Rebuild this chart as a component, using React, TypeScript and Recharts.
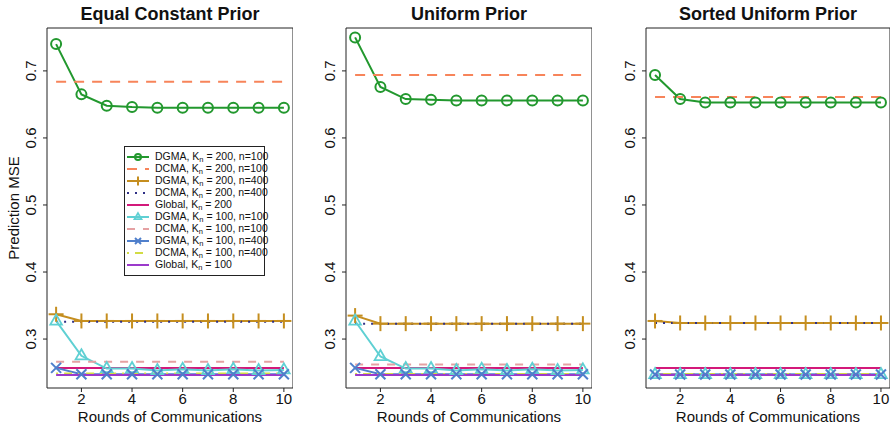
import { LineChart, Line, XAxis, YAxis, ReferenceArea, Legend, Label } from "recharts";

const rounds = [1, 2, 3, 4, 5, 6, 7, 8, 9, 10];
const xTicks = [2, 4, 6, 8, 10];
const yTicks = [0.3, 0.4, 0.5, 0.6, 0.7];
const panelTitles = ["Equal Constant Prior", "Uniform Prior", "Sorted Uniform Prior"];

// Equal Constant Prior
const ecpDgma200n100 = [0.74, 0.665, 0.648, 0.646, 0.645, 0.645, 0.645, 0.645, 0.645, 0.645];
const ecpDcma200n100 = [0.684, 0.684, 0.684, 0.684, 0.684, 0.684, 0.684, 0.684, 0.684, 0.684];
const ecpDgma200n400 = [0.337, 0.327, 0.327, 0.327, 0.327, 0.327, 0.327, 0.327, 0.327, 0.327];
const ecpDcma200n400 = [0.326, 0.326, 0.326, 0.326, 0.326, 0.326, 0.326, 0.326, 0.326, 0.326];
const ecpGlobal200 = [0.257, 0.257, 0.257, 0.257, 0.257, 0.257, 0.257, 0.257, 0.257, 0.257];
const ecpDgma100n100 = [0.327, 0.275, 0.256, 0.256, 0.253, 0.255, 0.253, 0.255, 0.253, 0.254];
const ecpDcma100n100 = [0.266, 0.266, 0.266, 0.266, 0.266, 0.266, 0.266, 0.266, 0.266, 0.266];
const ecpDgma100n400 = [0.257, 0.2475, 0.2475, 0.2475, 0.2475, 0.2475, 0.2475, 0.2475, 0.2475, 0.2475];
const ecpDcma100n400 = [0.2485, 0.2485, 0.2485, 0.2485, 0.2485, 0.2485, 0.2485, 0.2485, 0.2485, 0.2485];
const ecpGlobal100 = [0.2465, 0.2465, 0.2465, 0.2465, 0.2465, 0.2465, 0.2465, 0.2465, 0.2465, 0.2465];

// Uniform Prior
const upDgma200n100 = [0.75, 0.676, 0.658, 0.657, 0.656, 0.656, 0.656, 0.656, 0.656, 0.656];
const upDcma200n100 = [0.694, 0.694, 0.694, 0.694, 0.694, 0.694, 0.694, 0.694, 0.694, 0.694];
const upDgma200n400 = [0.335, 0.323, 0.323, 0.323, 0.323, 0.323, 0.323, 0.323, 0.323, 0.323];
const upDcma200n400 = [0.323, 0.323, 0.323, 0.323, 0.323, 0.323, 0.323, 0.323, 0.323, 0.323];
const upGlobal200 = [0.257, 0.257, 0.257, 0.257, 0.257, 0.257, 0.257, 0.257, 0.257, 0.257];
const upDgma100n100 = [0.327, 0.274, 0.256, 0.256, 0.253, 0.255, 0.253, 0.255, 0.253, 0.254];
const upDcma100n100 = [0.262, 0.262, 0.262, 0.262, 0.262, 0.262, 0.262, 0.262, 0.262, 0.262];
const upDgma100n400 = [0.257, 0.2475, 0.2475, 0.2475, 0.2475, 0.2475, 0.2475, 0.2475, 0.2475, 0.2475];
const upDcma100n400 = [0.248, 0.248, 0.248, 0.248, 0.248, 0.248, 0.248, 0.248, 0.248, 0.248];
const upGlobal100 = [0.2465, 0.2465, 0.2465, 0.2465, 0.2465, 0.2465, 0.2465, 0.2465, 0.2465, 0.2465];

// Sorted Uniform Prior
const supDgma200n100 = [0.694, 0.658, 0.653, 0.653, 0.653, 0.653, 0.653, 0.653, 0.653, 0.653];
const supDcma200n100 = [0.661, 0.661, 0.661, 0.661, 0.661, 0.661, 0.661, 0.661, 0.661, 0.661];
const supDgma200n400 = [0.327, 0.324, 0.324, 0.324, 0.324, 0.324, 0.324, 0.324, 0.324, 0.324];
const supDcma200n400 = [0.324, 0.324, 0.324, 0.324, 0.324, 0.324, 0.324, 0.324, 0.324, 0.324];
const supGlobal200 = [0.257, 0.257, 0.257, 0.257, 0.257, 0.257, 0.257, 0.257, 0.257, 0.257];
const supDgma100n100 = [0.2472, 0.2472, 0.2472, 0.2472, 0.2472, 0.2472, 0.2472, 0.2472, 0.2472, 0.2472];
const supDcma100n100 = [0.248, 0.248, 0.248, 0.248, 0.248, 0.248, 0.248, 0.248, 0.248, 0.248];
const supDgma100n400 = [0.2472, 0.2472, 0.2472, 0.2472, 0.2472, 0.2472, 0.2472, 0.2472, 0.2472, 0.2472];
const supDcma100n400 = [0.2478, 0.2478, 0.2478, 0.2478, 0.2478, 0.2478, 0.2478, 0.2478, 0.2478, 0.2478];
const supGlobal100 = [0.2465, 0.2465, 0.2465, 0.2465, 0.2465, 0.2465, 0.2465, 0.2465, 0.2465, 0.2465];

const panelValues = [
	[ecpDgma200n100, ecpDcma200n100, ecpDgma200n400, ecpDcma200n400, ecpGlobal200, ecpDgma100n100, ecpDcma100n100, ecpDgma100n400, ecpDcma100n400, ecpGlobal100],
	[upDgma200n100, upDcma200n100, upDgma200n400, upDcma200n400, upGlobal200, upDgma100n100, upDcma100n100, upDgma100n400, upDcma100n400, upGlobal100],
	[supDgma200n100, supDcma200n100, supDgma200n400, supDcma200n400, supGlobal200, supDgma100n100, supDcma100n100, supDgma100n400, supDcma100n400, supGlobal100],
];

const seriesInfo = [
	{ method: "DGMA", k: "200", n: "100", color: "#22982e", dash: undefined, marker: "circle" },
	{ method: "DCMA", k: "200", n: "100", color: "#f7845a", dash: "10 8", marker: null },
	{ method: "DGMA", k: "200", n: "400", color: "#c58e1f", dash: undefined, marker: "plus" },
	{ method: "DCMA", k: "200", n: "400", color: "#2e2f86", dash: "2 6", marker: null },
	{ method: "Global", k: "200", n: null, color: "#d3197a", dash: undefined, marker: null },
	{ method: "DGMA", k: "100", n: "100", color: "#5fd0d3", dash: undefined, marker: "triangle" },
	{ method: "DCMA", k: "100", n: "100", color: "#e5a1a3", dash: "8 8", marker: null },
	{ method: "DGMA", k: "100", n: "400", color: "#4f7fcb", dash: undefined, marker: "cross" },
	{ method: "DCMA", k: "100", n: "400", color: "#d2dc44", dash: "2 6 8 6", marker: null },
	{ method: "Global", k: "100", n: null, color: "#9b3acb", dash: undefined, marker: null },
];

const xDomain = [0.64, 10.36];
const yDomain = [0.227, 0.764];
const FONT = "'Liberation Sans', Arial, Helvetica, sans-serif";

const Marker = ({ shape, x, y, color, s = 1 }: any) => {
	if (shape === "circle")
		return <circle cx={x} cy={y} r={5 * s} fill="none" stroke={color} strokeWidth={2} />;
	if (shape === "plus")
		return (
			<g stroke={color} strokeWidth={2}>
				<line x1={x - 7.5 * s} y1={y} x2={x + 7.5 * s} y2={y} />
				<line x1={x} y1={y - 7.5 * s} x2={x} y2={y + 7.5 * s} />
			</g>
		);
	if (shape === "triangle") {
		const h = 6.5 * s;
		const w = 5.8 * s;
		return (
			<polygon
				points={`${x},${y - h} ${x + w},${y + h * 0.55} ${x - w},${y + h * 0.55}`}
				fill="none"
				stroke={color}
				strokeWidth={1.8}
			/>
		);
	}
	if (shape === "cross")
		return (
			<g stroke={color} strokeWidth={2}>
				<line x1={x - 5 * s} y1={y - 5 * s} x2={x + 5 * s} y2={y + 5 * s} />
				<line x1={x - 5 * s} y1={y + 5 * s} x2={x + 5 * s} y2={y - 5 * s} />
			</g>
		);
	return null;
};

const makeDot = (shape: string, color: string) => (p: any) => {
	const { cx, cy, index } = p;
	if (cx == null || cy == null) return <g key={index} />;
	return (
		<g key={index}>
			<Marker shape={shape} x={cx} y={cy} color={color} />
		</g>
	);
};

const YTick = (props: any) => {
	const { x, y, payload } = props;
	const bx = x - 5;
	return (
		<text x={bx} y={y} transform={`rotate(-90 ${bx} ${y})`} textAnchor="middle" fontSize={15} fill="#111">
			{payload.value.toFixed(1)}
		</text>
	);
};

const LegendBox = () => (
	<div
		style={{
			border: "1px solid #222",
			background: "#fff",
			padding: "4px 0",
			width: 141,
			boxSizing: "border-box",
			fontFamily: FONT,
			fontSize: 10.5,
			color: "#111",
		}}
	>
		{seriesInfo.map((s, i) => (
			<div key={i} style={{ display: "flex", alignItems: "center", height: 12 }}>
				<svg width={28} height={12} style={{ flex: "none" }}>
					<line x1={2} y1={6} x2={24} y2={6} stroke={s.color} strokeWidth={2} strokeDasharray={s.dash} />
					{s.marker && <Marker shape={s.marker} x={13} y={6} color={s.color} s={0.6} />}
				</svg>
				<span style={{ marginLeft: 2, whiteSpace: "nowrap" }}>
					{s.method}, K<sub style={{ fontSize: 7.5, verticalAlign: "-2px" }}>n</sub> = {s.k}
					{s.n ? `, n=${s.n}` : ""}
				</span>
			</div>
		))}
	</div>
);

const panelLayout = [
	{ left: 0, width: 293, yWidth: 47 },
	{ left: 300, width: 292, yWidth: 46 },
	{ left: 600, width: 290, yWidth: 46 },
];

const Panel = ({ idx }: { idx: number }) => {
	const values = panelValues[idx];
	const data = rounds.map((r, i) => {
		const row: any = { round: r };
		values.forEach((arr, j) => {
			row[`s${j}`] = arr[i];
		});
		return row;
	});
	const lay = panelLayout[idx];
	return (
		<div style={{ position: "absolute", left: lay.left, top: 0 }}>
			<div
				style={{
					position: "absolute",
					left: lay.yWidth,
					width: lay.width - lay.yWidth,
					top: 4,
					textAlign: "center",
					fontWeight: "bold",
					fontSize: 18,
					lineHeight: "20px",
					color: "#111",
				}}
			>
				{panelTitles[idx]}
			</div>
			<LineChart width={lay.width} height={427} data={data} margin={{ top: 28, right: 0, bottom: 0, left: 0 }}>
				<XAxis
					type="number"
					dataKey="round"
					domain={xDomain}
					ticks={xTicks}
					allowDataOverflow
					height={39}
					axisLine={false}
					tickLine={{ stroke: "#222" }}
					tickSize={4}
					tickMargin={1}
					tick={{ fontSize: 15, fill: "#111" }}
				>
					<Label value="Rounds of Communications" position="insideBottom" offset={5} style={{ fontSize: 15, fill: "#111", textAnchor: "middle" }} />
				</XAxis>
				<YAxis
					type="number"
					domain={yDomain}
					ticks={yTicks}
					allowDataOverflow
					width={lay.yWidth}
					axisLine={false}
					tickLine={{ stroke: "#222" }}
					tickSize={4}
					tickMargin={2}
					tick={<YTick />}
				>
					{idx === 0 && (
						<Label value="Prediction MSE" angle={-90} position="insideLeft" offset={14} style={{ fontSize: 15, fill: "#111", textAnchor: "middle" }} />
					)}
				</YAxis>
				<ReferenceArea x1={xDomain[0]} x2={xDomain[1]} y1={yDomain[0]} y2={yDomain[1]} fill="none" stroke="#222" strokeWidth={1} fillOpacity={0} />
				{seriesInfo.map((s, j) => (
					<Line
						key={j}
						dataKey={`s${j}`}
						type="linear"
						stroke={s.color}
						strokeWidth={2}
						strokeDasharray={s.dash}
						dot={s.marker ? makeDot(s.marker, s.color) : false}
						activeDot={false}
						isAnimationActive={false}
					/>
				))}
				{idx === 0 && (
					<Legend
						layout="vertical"
						align="center"
						verticalAlign="middle"
						content={() => <LegendBox />}
						wrapperStyle={{ position: "absolute", left: 124, top: 146, width: 141 }}
					/>
				)}
			</LineChart>
		</div>
	);
};

export default function App() {
	return (
		<div style={{ position: "absolute", left: 0, top: 0, width: 892, height: 427, background: "#fff", fontFamily: FONT }}>
			<Panel idx={0} />
			<Panel idx={1} />
			<Panel idx={2} />
		</div>
	);
}
